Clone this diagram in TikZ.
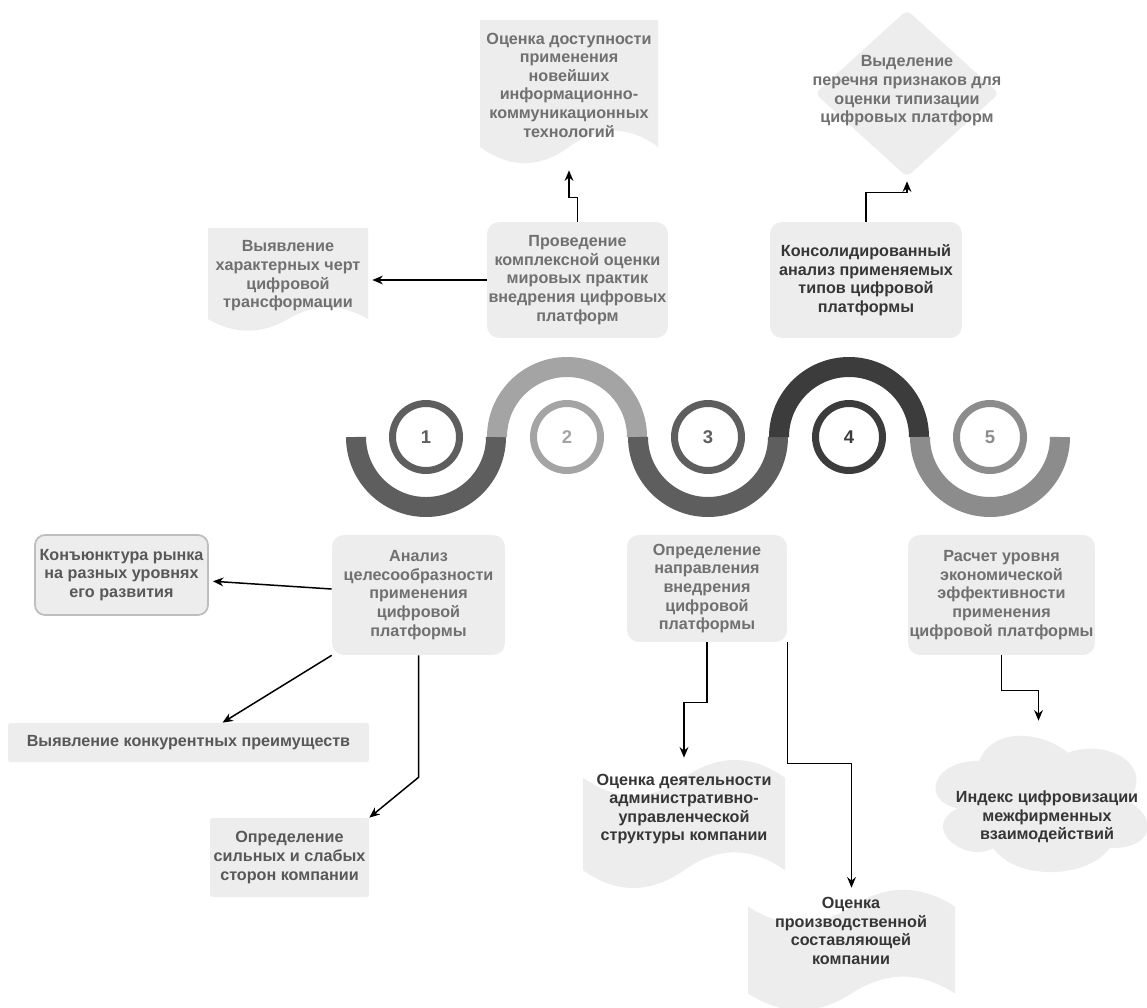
\documentclass[tikz,border=0pt]{standalone}
\usepackage{fontspec}
\setmainfont{Liberation Sans}
\usetikzlibrary{arrows.meta,fit,shapes.geometric}

\definecolor{boxfill}{HTML}{EDEDED}
\definecolor{txtgray}{HTML}{707070}
\definecolor{txtmid}{HTML}{585858}
\definecolor{txtdark}{HTML}{363636}
\definecolor{wavedark}{HTML}{5E5E5E}
\definecolor{wavelight}{HTML}{A4A4A4}
\definecolor{wavedeep}{HTML}{3C3C3C}
\definecolor{wavemid}{HTML}{8C8C8C}
\definecolor{edgegray}{HTML}{BEBEBE}

% wavy-bottom document shape: x0 y0 x1 y1 name (pixels)
\def\docshape#1#2#3#4#5{%
  \pgfmathsetmacro\shw{(#3)-(#1)}%
  \pgfmathsetmacro\shm{((#1)+(#3))/2}%
  \pgfmathsetmacro\shd{0.25*((#4)-(#2))}%
  \fill[boxfill] (#1,#2) -- (#3,#2) -- ({#3},{#4-0.5*\shd})
    .. controls ({#3-\shw/6},{#4-1.1*\shd}) and ({\shm+\shw/6},{#4-1.1*\shd}) .. ({\shm},{#4-0.5*\shd})
    .. controls ({\shm-\shw/6},{#4+0.1*\shd}) and ({#1+\shw/6},{#4+0.1*\shd}) .. ({#1},{#4-0.5*\shd}) -- cycle;
  \node[inner sep=0pt, fit={(#1,#2) (#3,#4)}] (#5) {};
}
% tape shape, wavy top and bottom
\def\tapeshape#1#2#3#4#5{%
  \pgfmathsetmacro\shw{(#3)-(#1)}%
  \pgfmathsetmacro\shm{((#1)+(#3))/2}%
  \pgfmathsetmacro\shd{0.3*((#4)-(#2))}%
  \fill[boxfill] ({#1},{#2+0.5*\shd})
    .. controls ({#1+\shw/6},{#2+1.1*\shd}) and ({\shm-\shw/6},{#2+1.1*\shd}) .. ({\shm},{#2+0.5*\shd})
    .. controls ({\shm+\shw/6},{#2-0.1*\shd}) and ({#3-\shw/6},{#2-0.1*\shd}) .. ({#3},{#2+0.5*\shd})
    -- ({#3},{#4-0.5*\shd})
    .. controls ({#3-\shw/6},{#4-1.1*\shd}) and ({\shm+\shw/6},{#4-1.1*\shd}) .. ({\shm},{#4-0.5*\shd})
    .. controls ({\shm-\shw/6},{#4+0.1*\shd}) and ({#1+\shw/6},{#4+0.1*\shd}) .. ({#1},{#4-0.5*\shd}) -- cycle;
  \node[inner sep=0pt, fit={(#1,#2) (#3,#4)}] (#5) {};
}
% cloud: x0 y0 w h name
\def\cloudshape#1#2#3#4#5{%
  \pgfmathsetmacro\shw{0.02*(#3)}%
  \pgfmathsetmacro\shh{-0.02*(#4)}%
  \fill[boxfill, shift={(#1,#2)}, x=\shw cm, y=\shh cm] (0.25,0.25)
    .. controls (0.05,0.25) and (0,0.5) .. (0.16,0.55)
    .. controls (0,0.66) and (0.18,0.9) .. (0.31,0.8)
    .. controls (0.4,1) and (0.7,1) .. (0.8,0.8)
    .. controls (1,0.8) and (1,0.6) .. (0.875,0.5)
    .. controls (1,0.3) and (0.8,0.1) .. (0.625,0.2)
    .. controls (0.5,0.05) and (0.3,0.05) .. (0.25,0.25) -- cycle;
  \node[inner sep=0pt, fit={(#1,#2) ({#1+#3},{#2+#4})}] (#5) {};
}

\tikzset{
  txt/.style={font=\fontsize{9.2}{10.6}\selectfont\bfseries, text=txtgray, align=center, inner sep=0pt},
  rbox/.style={txt, fill=boxfill, rounded corners=0.24cm},
  sbox/.style={txt, fill=boxfill, rounded corners=0.05cm},
  arr/.style={-{Stealth[length=6pt,width=5pt]}, line width=0.85pt, black},
  band/.style={line width=0.4cm},
  ring/.style={circle, line width=0.14cm, minimum size=1.34cm, inner sep=0pt,
    font=\fontsize{10.5}{12}\selectfont\bfseries}
}

\begin{document}
\begin{tikzpicture}[x=0.02cm, y=-0.02cm]
\useasboundingbox (0,0) rectangle (1147,1008);
\fill[white] (0,0) rectangle (1147,1008);

% wave
\foreach \i/\col/\e in {0/wavedark/0, 1/wavelight/360, 2/wavedark/0, 3/wavedeep/360, 4/wavemid/0}{
	\draw[band, \col] ({356+141*\i},437) arc[start angle=180, end angle=\e, radius=70];
}
\foreach \i/\col in {1/wavedark, 2/wavelight, 3/wavedark, 4/wavedeep, 5/wavemid}{
	\node[ring, draw=\col, text=\col] (s\i) at ({426+141*(\i-1)},437) {\i};
}

% shapes drawn directly
\docshape{480}{20}{658}{165}{dostup}
\docshape{208}{228}{368}{332}{vyyav}
\tapeshape{583}{758}{785}{890}{deyat}
\tapeshape{748}{888}{955}{1012}{proizv}
\cloudshape{920}{721}{237}{159}{indeks}
\node[diamond, fill=boxfill, rounded corners=0.1cm, inner sep=0pt, minimum width=3.68cm, minimum height=3.34cm] (vydel) at (907,93.5) {};

% texts on the shapes
\node[txt] (dostupT) at (569,85) {Оценка доступности\\применения\\новейших\\информационно-\\коммуникационных\\технологий};
\node[txt] (vyyavT) at (288,276) {Выявление\\характерных черт\\цифровой\\трансформации};
\node[txt] (vydelT) at (907,91) {Выделение\\перечня признаков для\\оценки типизации\\цифровых платформ};
\node[txt, text=txtdark] (deyatT) at (684,809) {Оценка деятельности\\административно-\\управленческой\\структуры компании};
\node[txt, text=txtdark] (proizvT) at (851,931) {Оценка\\производственной\\составляющей\\компании};
\node[txt, text=txtdark] (indeksT) at (1047,817) {Индекс цифровизации\\межфирменных\\взаимодействий};

% boxes
\node[rbox, minimum width=3.62cm, minimum height=2.32cm] (provod) at (577.5,280) {Проведение\\комплексной оценки\\мировых практик\\внедрения цифровых\\платформ};
\node[rbox, text=txtdark, minimum width=3.84cm, minimum height=2.32cm] (konsol) at (866,280) {Консолидированный\\анализ применяемых\\типов цифровой\\платформы};
\node[rbox, minimum width=3.46cm, minimum height=2.4cm] (analiz) at (418.5,595) {Анализ\\целесообразности\\применения\\цифровой\\платформы};
\node[rbox, text=txtmid, draw=edgegray, line width=1pt, rounded corners=0.2cm, minimum width=3.46cm, minimum height=1.6cm] (konj) at (121.5,575) {Конъюнктура рынка\\на разных уровнях\\его развития};
\node[sbox, text=txtmid, minimum width=7.22cm, minimum height=0.78cm] (konkur) at (188.5,742.5) {Выявление конкурентных преимуществ};
\node[sbox, text=txtmid, minimum width=3.18cm, minimum height=1.58cm] (silnye) at (289.5,857.5) {Определение\\сильных и слабых\\сторон компании};
\node[rbox, minimum width=3.2cm, minimum height=2.14cm] (napr) at (707,588.5) {Определение\\направления\\внедрения\\цифровой\\платформы};
\node[rbox, minimum width=3.74cm, minimum height=2.4cm] (raschet) at (1001.5,595) {Расчет уровня\\экономической\\эффективности\\применения\\цифровой платформы};

% connectors
\draw[arr, shorten >=0.1cm] (provod.north) -- ++(0,-24) -| (dostup.south);
\draw[arr, shorten >=0.08cm] (provod.west) -- (vyyav.east);
\draw[arr, shorten >=0.08cm] (konsol.north) -- ++(0,-29) -| (vydel.south);
\draw[arr, shorten >=0.08cm] ([yshift=0.12cm]analiz.west) -- ([yshift=-0.12cm]konj.east);
\draw[arr] (analiz.south west) -- ([xshift=0.68cm]konkur.north);
\draw[arr] (analiz.south) -- ++(0,122) -- (silnye.north east);
\draw[arr] (napr.south) -- ++(0,60) -| (deyat.north);
\draw[arr] (napr.south east) -- ++(0,121) -| (proizv.north);
\draw[arr] (raschet.south) -- ++(0,35) -| (indeks.north);
\end{tikzpicture}
\end{document}
